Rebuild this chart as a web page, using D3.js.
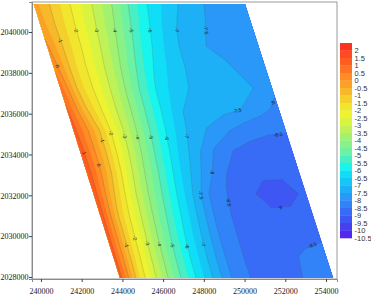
<!DOCTYPE html>
<html><head><meta charset="utf-8">
<script src="https://cdn.jsdelivr.net/npm/d3@7"></script>
<style>body{margin:0;background:#fff}svg{display:block}</style>
</head><body><svg id="chart" width="371" height="295"></svg>
<script>
// ---------- data ----------
const xTicks = [240000, 242000, 244000, 246000, 248000, 250000, 252000, 254000];
const yTicks = [2028000, 2030000, 2032000, 2034000, 2036000, 2038000, 2040000];
const xDomain = [239560, 254540];
const yDomain = [2027900, 2041470];
// surveyed surface outline (parallelogram)
const surfaceTopY = 2041370, surfaceBottomY = 2027950;
const surfaceTopX = [239650, 250020];
const surfaceBottomX = [243880, 254350];

// legend levels (top to bottom) and band colours
const legendTicks = [2, 1.5, 1, 0.5, 0, -0.5, -1, -1.5, -2, -2.5, -3, -3.5, -4, -4.5, -5, -5.5, -6, -6.5, -7, -7.5, -8, -8.5, -9, -9.5, -10, -10.5];
const bandColors = ["#ff3220","#ff4a22","#ff5c22","#ff7422","#ff8c24","#fba226","#f7b82a","#f5cf2c","#f2e52e","#eef230",
  "#d9f440","#bef258","#a2f270","#88f288","#6cf2a2","#48efc4","#18f4ee","#10def6","#16c6f6","#1eb0f6",
  "#2a98f8","#3282f8","#386cf6","#3e56f4","#4640f0","#5228ee"];

// gridded values across the surface (rows top->bottom, columns left edge->right edge)
const gridRow00 = [-0.3, -1.16, -2.11, -2.98, -3.94, -5.11, -6.10, -6.74, -7.24, -7.54, -7.67, -7.8];
const gridRow01 = [-0.2, -1.24, -2.19, -3.11, -4.15, -5.35, -6.29, -6.96, -7.38, -7.58, -7.69, -7.8];
const gridRow02 = [0.1, -1.25, -2.23, -3.23, -4.39, -5.61, -6.45, -7.08, -7.47, -7.58, -7.66, -7.75];
const gridRow03 = [0.4, -1.30, -2.31, -3.39, -4.67, -5.86, -6.60, -7.08, -7.26, -7.45, -7.62, -7.8];
const gridRow04 = [0.8, -1.26, -2.32, -3.49, -4.89, -6.06, -6.79, -7.10, -7.23, -7.36, -7.495, -7.9];
const gridRow05 = [1.05, -0.92, -2.29, -3.57, -4.96, -6.14, -6.99, -7.16, -7.33, -7.49, -7.83, -8.15];
const gridRow06 = [1.25, -0.39, -2.13, -3.62, -5.06, -6.27, -7.12, -7.56, -7.96, -8.3, -8.42, -8.47];
const gridRow07 = [1.35, -0.39, -2.22, -3.77, -5.23, -6.44, -7.32, -8.08, -8.54, -8.69, -8.78, -8.7];
const gridRow08 = [1.4, -0.46, -2.41, -4.0, -5.41, -6.65, -7.56, -8.43, -8.7, -8.82, -8.85, -8.7];
const gridRow09 = [1.4, -0.83, -2.67, -4.24, -5.62, -6.84, -8.02, -8.54, -8.8, -9.3, -9.3, -8.8];
const gridRow10 = [1.4, -1.16, -2.83, -4.44, -5.79, -6.98, -8.13, -8.6, -8.75, -8.85, -8.8, -8.7];
const gridRow11 = [1.35, -1.24, -2.97, -4.62, -5.95, -7.11, -8.2, -8.6, -8.72, -8.72, -8.62, -8.58];
const gridRow12 = [1.3, -1.32, -3.10, -4.73, -6.05, -7.19, -8.22, -8.6, -8.68, -8.59, -8.43, -8.3];
const gridRow13 = [1.25, -1.47, -3.22, -4.81, -6.1, -7.24, -8.21, -8.6, -8.65, -8.56, -8.42, -8.25];

// contour labels: level and approximate location (data coordinates)
const labelLevels = [-1, -2, -3, -4, -5, -6, -7, -7.5, 0, 1, 0, -1, -2, -3, -4, -5, -6, -7, -1, -2, -3, -4, -5, -6, -7, -7.5, -8, -8.5, -8, -7.5, -8.5, -9, -8.5];
const labelX = [240935, 241721, 242752, 243685, 244422, 245257, 246632, 247810, 240886, 242065, 242948, 242998, 243489, 244127, 244766, 245404, 246141, 247025, 244127, 244667, 245208, 245748, 246386, 247123, 247958, 249628, 251445, 251641, 248105, 247958, 249087, 251740, 252525];
const labelY = [2039609, 2040099, 2040099, 2040099, 2040099, 2040099, 2040099, 2040099, 2038335, 2034073, 2033485, 2034710, 2035053, 2034906, 2034857, 2034857, 2034808, 2034906, 2029566, 2029909, 2029664, 2029615, 2029566, 2029517, 2029615, 2036081, 2036522, 2035053, 2033142, 2032015, 2031672, 2031400, 2029566];

// ---------- setup ----------
const grid = [gridRow00, gridRow01, gridRow02, gridRow03, gridRow04, gridRow05, gridRow06, gridRow07, gridRow08, gridRow09, gridRow10, gridRow11, gridRow12, gridRow13];
const nC = grid[0].length, nR = grid.length;
const values = grid.flat();

const svg = d3.select("#chart");
const plot = {left: 32, top: 2, right: 337, bottom: 279};
const x = d3.scaleLinear().domain(xDomain).range([plot.left, plot.right]);
const y = d3.scaleLinear().domain(yDomain).range([plot.bottom, plot.top]);

function toData(u, v) {
  const xl = surfaceTopX[0] + (surfaceBottomX[0] - surfaceTopX[0]) * v;
  const xr = surfaceTopX[1] + (surfaceBottomX[1] - surfaceTopX[1]) * v;
  return [xl + (xr - xl) * u, surfaceTopY + (surfaceBottomY - surfaceTopY) * v];
}
function toUV(X, Y) {
  const v = (Y - surfaceTopY) / (surfaceBottomY - surfaceTopY);
  const xl = surfaceTopX[0] + (surfaceBottomX[0] - surfaceTopX[0]) * v;
  const xr = surfaceTopX[1] + (surfaceBottomX[1] - surfaceTopX[1]) * v;
  return [(X - xl) / (xr - xl), v];
}
function valAt(u, v) {
  const gx = Math.max(0, Math.min(nC - 1, u * (nC - 1)));
  const gy = Math.max(0, Math.min(nR - 1, v * (nR - 1)));
  const i0 = Math.min(nC - 2, Math.floor(gx)), j0 = Math.min(nR - 2, Math.floor(gy));
  const fx = gx - i0, fy = gy - j0;
  const a = grid[j0][i0], b = grid[j0][i0 + 1], c = grid[j0 + 1][i0], d = grid[j0 + 1][i0 + 1];
  return (a * (1 - fx) + b * fx) * (1 - fy) + (c * (1 - fx) + d * fx) * fy;
}
function valPx(px, py) { const [u, v] = toUV(x.invert(px), y.invert(py)); return valAt(u, v); }

const proj = d3.geoTransform({
  point(px, py) {
    const [X, Y] = toData((px - 0.5) / (nC - 1), (py - 0.5) / (nR - 1));
    this.stream.point(x(X), y(Y));
  }
});
const path = d3.geoPath(proj);

// clip
const corners = [[surfaceTopX[0], surfaceTopY], [surfaceTopX[1], surfaceTopY], [surfaceBottomX[1], surfaceBottomY], [surfaceBottomX[0], surfaceBottomY]];
svg.append("defs").append("clipPath").attr("id", "surf")
  .append("polygon").attr("points", corners.map(c => [x(c[0]), y(c[1])].join(",")).join(" "));

const levels = legendTicks.slice().reverse(); // -10.5 .. 2
const colorOf = t => bandColors[legendTicks.indexOf(t)];

const contours = d3.contours().size([nC, nR]).smooth(true).thresholds(levels)(values);

const gMap = svg.append("g").attr("clip-path", "url(#surf)");
gMap.selectAll("path.fill").data(contours).join("path")
  .attr("class", "fill")
  .attr("d", path)
  .attr("fill", d => colorOf(d.value))
  .attr("stroke", d => colorOf(d.value))
  .attr("stroke-width", 0.3);

const lineLevels = [1, 0, -1, -2, -3, -4, -5, -6, -7, -7.5, -8, -8.5, -9];
gMap.selectAll("path.line").data(contours.filter(c => lineLevels.includes(c.value))).join("path")
  .attr("class", "line")
  .attr("d", path)
  .attr("fill", "none")
  .attr("stroke", "#404040")
  .attr("stroke-opacity", 0.28)
  .attr("stroke-width", 0.6);

// contour labels
function findRow(level, py, pxHint) {
  let best = null;
  let prev = null;
  for (let px = plot.left; px <= plot.right; px += 0.5) {
    const [u, v] = toUV(x.invert(px), y.invert(py));
    if (u < 0 || u > 1) { prev = null; continue; }
    const f = valAt(u, v) - level;
    if (prev && prev.f * f <= 0 && prev.f !== f) {
      const c = prev.px + (px - prev.px) * prev.f / (prev.f - f);
      if (!best || Math.abs(c - pxHint) < Math.abs(best[0] - pxHint)) best = [c, py];
    }
    prev = {px, f};
  }
  return best;
}
function findCol(level, px, pyHint) {
  let best = null, prev = null;
  for (let py = plot.top; py <= plot.bottom; py += 0.5) {
    const [u, v] = toUV(x.invert(px), y.invert(py));
    if (u < 0 || u > 1 || v < 0 || v > 1) { prev = null; continue; }
    const f = valAt(u, v) - level;
    if (prev && prev.f * f <= 0 && prev.f !== f) {
      const c = prev.py + (py - prev.py) * prev.f / (prev.f - f);
      if (!best || Math.abs(c - pyHint) < Math.abs(best[1] - pyHint)) best = [px, c];
    }
    prev = {py, f};
  }
  return best;
}
const fmt = v => String(v);
const labelData = labelLevels.map((lv, i) => {
  const hx = x(labelX[i]), hy = y(labelY[i]);
  const a = findRow(lv, hy, hx), b = findCol(lv, hx, hy);
  const da = a ? Math.abs(a[0] - hx) : 1e9, db = b ? Math.abs(b[1] - hy) : 1e9;
  const p = da <= db ? a : b;
  if (!p) return null;
  const gx = valPx(p[0] + 1, p[1]) - valPx(p[0] - 1, p[1]);
  const gy = valPx(p[0], p[1] + 1) - valPx(p[0], p[1] - 1);
  let ang = Math.atan2(gx, -gy) * 180 / Math.PI;
  if (ang > 90) ang -= 180;
  if (ang <= -90) ang += 180;
  return {lv, px: p[0], py: p[1], ang};
}).filter(Boolean);

svg.append("g").selectAll("text").data(labelData).join("text")
  .attr("transform", d => `translate(${d.px},${d.py}) rotate(${d.ang})`)
  .attr("text-anchor", "middle")
  .attr("dominant-baseline", "central")
  .attr("font-family", "Liberation Sans, Arial, sans-serif")
  .attr("font-size", 5)
  .attr("fill", "#1a1a1a")
  .text(d => fmt(d.lv));

// frame
svg.append("rect")
  .attr("x", plot.left).attr("y", plot.top)
  .attr("width", plot.right - plot.left).attr("height", plot.bottom - plot.top)
  .attr("fill", "none").attr("stroke", "#9a9a9a").attr("stroke-width", 1);

// axes
const fontAxis = "Liberation Serif, Times New Roman, serif";
const ax = svg.append("g").attr("transform", `translate(0,${plot.bottom})`)
  .call(d3.axisBottom(x).tickValues(xTicks).tickSize(3).tickFormat(d3.format("d")));
const ay = svg.append("g").attr("transform", `translate(${plot.left},0)`)
  .call(d3.axisLeft(y).tickValues(yTicks).tickSize(3).tickFormat(d3.format("d")));
[ax, ay].forEach(g => {
  g.select(".domain").attr("stroke", "#8a8a8a");
  g.selectAll(".tick line").attr("stroke", "#444");
  g.selectAll(".tick text").attr("font-family", fontAxis).attr("font-size", 8).attr("fill", "#222");
});
ax.selectAll(".tick text").attr("dy", null).attr("y", 14.5).attr("dominant-baseline", "auto");
ay.selectAll(".tick text").attr("x", -3.5).attr("dy", "0.35em");

// legend
const lg = svg.append("g");
const lgTop = 43, lgH = 7.5, lgX = 340, lgW = 12;
lg.selectAll("rect").data(legendTicks).join("rect")
  .attr("x", lgX).attr("y", (d, i) => lgTop + i * lgH)
  .attr("width", lgW).attr("height", lgH + 0.3)
  .attr("fill", (d, i) => bandColors[i]);
lg.selectAll("text").data(legendTicks).join("text")
  .attr("x", lgX + lgW + 2.5).attr("y", (d, i) => lgTop + (i + 1) * lgH)
  .attr("dominant-baseline", "central")
  .attr("font-family", "Liberation Sans, Arial, sans-serif")
  .attr("font-size", 7.5)
  .attr("fill", "#333")
  .text(d => fmt(d));
</script>
</body></html>
